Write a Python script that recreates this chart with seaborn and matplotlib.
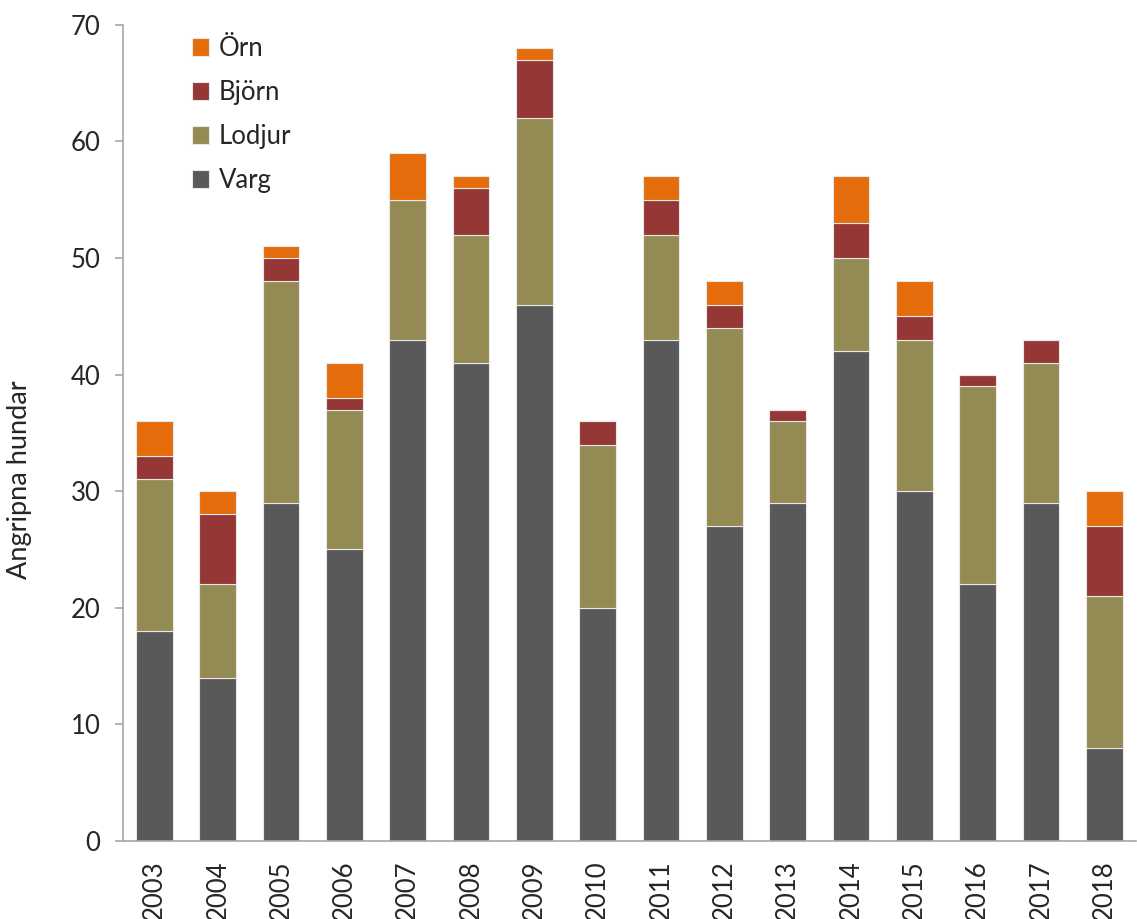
import numpy as np
import pandas as pd
import matplotlib
matplotlib.use("Agg")
import matplotlib.pyplot as plt
import seaborn as sns

years = [str(y) for y in range(2003, 2019)]
varg = [18, 14, 29, 25, 43, 41, 46, 20, 43, 27, 29, 42, 30, 22, 29, 8]
lodjur = [13, 8, 19, 12, 12, 11, 16, 14, 9, 17, 7, 8, 13, 17, 12, 13]
bjorn = [2, 6, 2, 1, 0, 4, 5, 2, 3, 2, 1, 3, 2, 1, 2, 6]
orn = [3, 2, 1, 3, 4, 1, 1, 0, 2, 2, 0, 4, 3, 0, 0, 3]

series = [("Varg", varg, "#595959"),
          ("Lodjur", lodjur, "#948A54"),
          ("Björn", bjorn, "#953735"),
          ("Örn", orn, "#E46C0A")]

sns.set_style("white")
plt.rcParams["font.family"] = ["Lato", "DejaVu Sans"]

fig, ax = plt.subplots(figsize=(11.37, 9.19), dpi=100)
fig.subplots_adjust(left=0.108, right=0.999, top=0.973, bottom=0.085)

bottom = np.zeros(len(years))
for name, vals, color in series:
    df = pd.DataFrame({"year": years, "n": vals})
    sns.barplot(data=df, x="year", y="n", color=color, bottom=bottom,
                width=0.58, label=name, ax=ax, saturation=1,
                linewidth=0.8, edgecolor="#E8E8E8")
    bottom += np.array(vals)

ax.set_xlim(-0.5, len(years) - 0.5)
ax.set_ylim(0, 70)
ax.set_yticks(range(0, 71, 10))
ax.set_xlabel("")
ax.set_ylabel("Angripna hundar", fontsize=19.5)
ax.yaxis.set_label_coords(-0.09, 0.442)

ax.set_xticks(range(len(years)))
ax.set_xticklabels(years, rotation=90, fontsize=18.5)
ax.tick_params(axis="x", which="major", length=0, pad=14)
ax.set_xticks(np.arange(-0.5, len(years)), minor=True)
ax.tick_params(axis="x", which="minor", length=10, color="#A6A6A6", width=1.2)
ax.tick_params(axis="y", labelsize=18.5, length=6, color="#A6A6A6", width=1.2, left=True, pad=10)

for side in ["top", "right"]:
    ax.spines[side].set_visible(False)
for side in ["left", "bottom"]:
    ax.spines[side].set_color("#A6A6A6")
    ax.spines[side].set_linewidth(1.2)

handles, labels = ax.get_legend_handles_labels()
ax.legend(handles[::-1], labels[::-1], loc="upper left", bbox_to_anchor=(0.045, 1.015),
          frameon=False, fontsize=18.5, handlelength=0.7, handleheight=0.7,
          handletextpad=0.35, labelspacing=0.74)

fig.savefig("out.png", dpi=100)
